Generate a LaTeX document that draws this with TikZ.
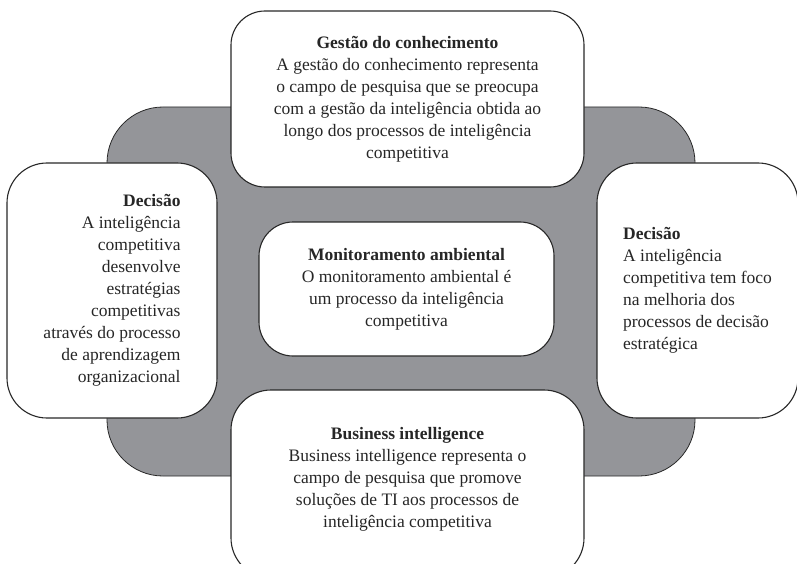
\documentclass[tikz,border=0pt]{standalone}
\usepackage{fontspec}
\setmainfont{Liberation Serif}
\usetikzlibrary{positioning}
\definecolor{bggray}{RGB}{148,149,153}
\definecolor{edgegray}{RGB}{40,40,40}
\tikzset{
  box/.style={
    draw=edgegray, fill=white, rounded corners=34pt, line width=1.1pt,
    inner sep=0pt
  },
  txt/.style={
    font=\fontsize{17.5}{22}\selectfont, inner sep=0pt, text=black!85
  },
  x=1pt, y=-1pt, semithick
}

\begin{document}
\begin{tikzpicture}
    \useasboundingbox (0,0) rectangle (797,564);
    % gray backdrop
    \draw[fill=bggray, draw=edgegray, line width=0.8pt, rounded corners=56pt]
      (107,107) rectangle (695,476);

    \node[box, minimum width=353pt, minimum height=176pt] (gc) at (407.5,99) {};
    \node[box, minimum width=210pt, minimum height=255pt, rounded corners=40pt] (decl) at (112,290.5) {};
    \node[box, minimum width=295pt, minimum height=134pt] (ma) at (406.5,289) {};
    \node[box, minimum width=201pt, minimum height=255pt, rounded corners=40pt] (decr) at (697.5,290.5) {};
    \node[box, minimum width=353pt, minimum height=188pt, rounded corners=40pt] (bi) at (407.5,484) {};

    \node[txt, align=center] (gctext) at (gc.center)
      {\textbf{Gestão do conhecimento}\\
       A gestão do conhecimento representa\\
       o campo de pesquisa que se preocupa\\
       com a gestão da inteligência obtida ao\\
       longo dos processos de inteligência\\
       competitiva};
    \node[txt, align=right] (decltext) at (decl.center)
      {\textbf{Decisão}\\
       A inteligência\\
       competitiva\\
       desenvolve\\
       estratégias\\
       competitivas\\
       através do processo\\
       de aprendizagem\\
       organizacional};
    \node[txt, align=center] (matext) at (ma.center)
      {\textbf{Monitoramento ambiental}\\
       O monitoramento ambiental é\\
       um processo da inteligência\\
       competitiva};
    \node[txt, align=left] (decrtext) at (decr.center)
      {\textbf{Decisão}\\
       A inteligência\\
       competitiva tem foco\\
       na melhoria dos\\
       processos de decisão\\
       estratégica};
    \node[txt, align=center] (bitext) at ([yshift=5pt]bi.center)
      {\textbf{Business intelligence}\\
       Business intelligence representa o\\
       campo de pesquisa que promove\\
       soluções de TI aos processos de\\
       inteligência competitiva};
\end{tikzpicture}
\end{document}
